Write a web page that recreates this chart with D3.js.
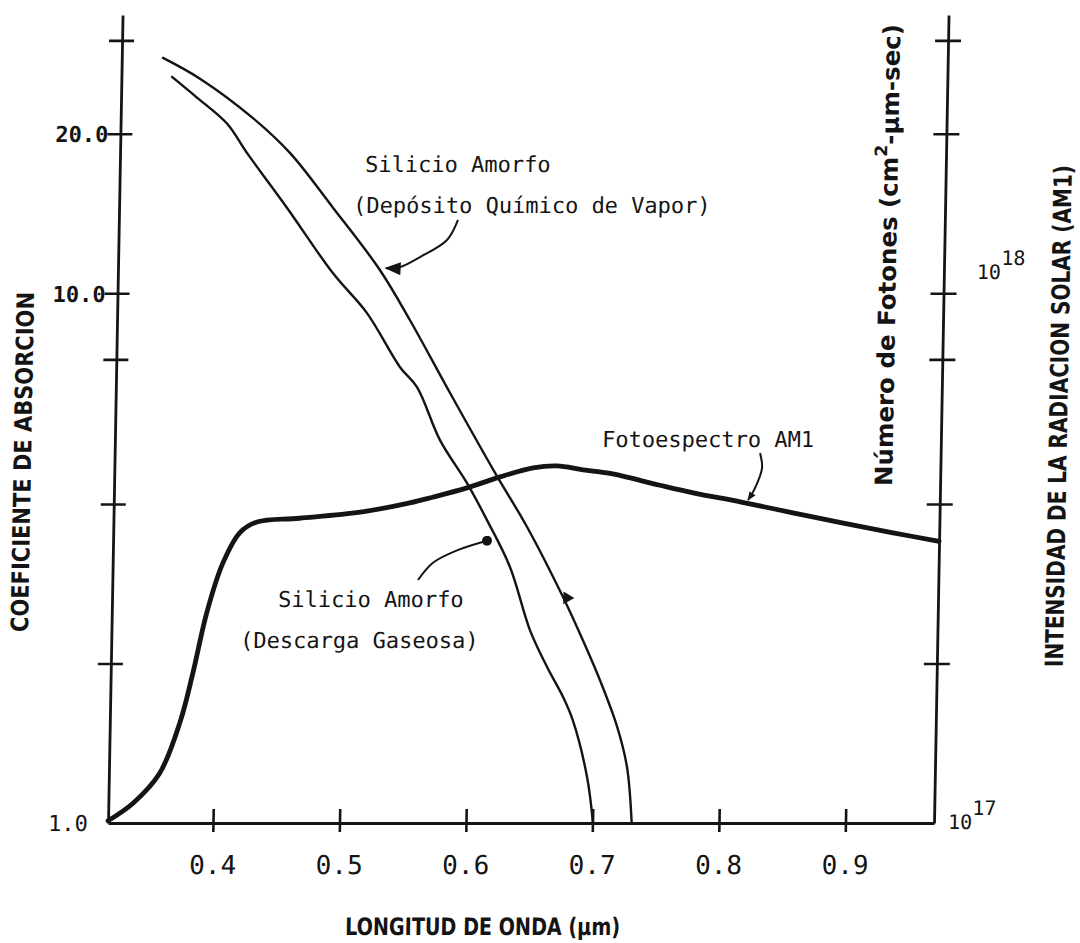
<!DOCTYPE html>
<html>
<head>
<meta charset="utf-8">
<script src="https://cdn.jsdelivr.net/npm/d3@7"></script>
<style>
  html, body { margin: 0; padding: 0; background: #fff; }
  svg { display: block; }
  .mono   { font-family: "DejaVu Sans Mono", "Liberation Mono", monospace; fill: #141414; }
  .narrow { font-family: "Liberation Sans Narrow", "DejaVu Sans Condensed", "DejaVu Sans", sans-serif; fill: #141414; font-weight: bold; }
</style>
</head>
<body>
<svg id="chart" width="1080" height="943"></svg>
<script>
// Absorption coefficient of amorphous silicon (two deposition methods) on a
// log axis, with the AM1 solar photon spectrum on a second log axis.

const X_DOMAIN = [0.317, 0.970];
const X_TICKS = [0.4, 0.5, 0.6, 0.7, 0.8, 0.9];

const ALPHA_DOMAIN = [1, 33.5];
const ALPHA_TICKS = [1, 2, 4, 7.5, 10, 20, 30];
const ALPHA_LABELS = new Map([[1, "1.0"], [10, "10.0"], [20, "20.0"]]);

const PHOTON_DOMAIN = [1e17, 3.35e18];
const PHOTON_TICKS = [1e17, 2e17, 4e17, 7.5e17, 1e18, 2e18, 3e18];
const PHOTON_EXPONENTS = new Map([[1e17, "17"], [1e18, "18"]]);

// Silicio Amorfo (Deposito Quimico de Vapor)
const CVD_WL    = [0.3496, 0.3791, 0.4216, 0.4513, 0.4861, 0.5242, 0.5486, 0.5813,
                   0.618, 0.6441, 0.6735, 0.6899, 0.7039, 0.7181, 0.7265, 0.731];
const CVD_ALPHA = [27.8, 25.4, 21.4, 18.4, 14.5, 11.05, 8.89, 6.48,
                   4.58, 3.62, 2.67, 2.21, 1.86, 1.52, 1.275, 1.0];

// Silicio Amorfo (Descarga Gaseosa)
const GD_WL    = [0.357, 0.377, 0.4011, 0.4173, 0.4497, 0.4871, 0.5145, 0.5414, 0.5551,
                  0.574, 0.596, 0.6123, 0.6312, 0.6479, 0.6619, 0.6749, 0.6831, 0.6951, 0.7004];
const GD_ALPHA = [25.6, 23.4, 20.9, 18.4, 14.5, 10.9, 9.17, 7.25, 6.65,
                  5.28, 4.38, 3.73, 3.04, 2.31, 1.97, 1.73, 1.56, 1.22, 1.0];

// Fotoespectro AM1, photons per cm2-um-sec (x 1e17)
const AM1_WL   = [0.317, 0.3365, 0.357, 0.3725, 0.382, 0.392, 0.404, 0.417, 0.4305,
                  0.464, 0.512, 0.551, 0.569, 0.596, 0.622, 0.648, 0.667, 0.6875,
                  0.709, 0.7485, 0.775, 0.814, 0.854, 0.894, 0.9335, 0.970];
const AM1_FLUX = [1.01, 1.09, 1.24, 1.55, 1.92, 2.49, 3.09, 3.53, 3.70,
                  3.76, 3.86, 4.02, 4.12, 4.29, 4.50, 4.68, 4.72, 4.64,
                  4.57, 4.34, 4.20, 4.03, 3.85, 3.68, 3.53, 3.40];

// Leader lines of the annotations, as [wavelength, value] pairs.
const CVD_LEADER = [[0.5851, 13.75], [0.5767, 12.6], [0.5556, 11.7], [0.540, 11.2], [0.5289, 11.15]];
const GD_LEADER  = [[0.5586, 2.875], [0.5702, 3.10], [0.5890, 3.27], [0.6126, 3.41]];
const AM1_LEADER = [[0.8272, 4.99], [0.8290, 4.68], [0.8238, 4.29], [0.8184, 4.07]];
const CVD_MARK   = [0.6767, 2.66];

const INK = "#141414";
const LEFT = 108, RIGHT = 934, TOP = 15, BOTTOM = 823;
const SHEAR = 0.018;   // the scanned page leans slightly to the right

const x  = d3.scaleLinear().domain(X_DOMAIN).range([LEFT, RIGHT]);
const yA = d3.scaleLog().domain(ALPHA_DOMAIN).range([BOTTOM, TOP]);
const yP = d3.scaleLog().domain(PHOTON_DOMAIN).range([BOTTOM, TOP]);

const svg = d3.select("#chart");
const defs = svg.append("defs");

defs.append("marker")
  .attr("id", "head")
  .attr("viewBox", "0 0 10 8")
  .attr("refX", 9).attr("refY", 4)
  .attr("markerUnits", "userSpaceOnUse")
  .attr("markerWidth", 17).attr("markerHeight", 13)
  .attr("orient", "auto")
  .append("path").attr("d", "M0,0 L10,4 L0,8 Z").attr("fill", INK);

defs.append("marker")
  .attr("id", "small-head")
  .attr("viewBox", "0 0 10 8")
  .attr("refX", 9).attr("refY", 4)
  .attr("markerUnits", "userSpaceOnUse")
  .attr("markerWidth", 9).attr("markerHeight", 8)
  .attr("orient", "auto")
  .append("path").attr("d", "M0,0 L10,4 L0,8 Z").attr("fill", INK);

defs.append("marker")
  .attr("id", "dot")
  .attr("viewBox", "0 0 10 10")
  .attr("refX", 5).attr("refY", 5)
  .attr("markerUnits", "userSpaceOnUse")
  .attr("markerWidth", 10).attr("markerHeight", 10)
  .append("circle").attr("cx", 5).attr("cy", 5).attr("r", 5).attr("fill", INK);

const root = svg.append("g")
  .attr("transform", `matrix(1,0,${-SHEAR},1,${SHEAR * BOTTOM},0)`);

// ---- axes ----
function inkAxis(g) {
  g.attr("font-family", null).attr("font-size", null);
  g.select(".domain").attr("stroke", INK).attr("stroke-width", 2.8);
  g.selectAll(".tick line").attr("stroke", INK).attr("stroke-width", 2.6);
}

const gx = root.append("g")
  .attr("transform", `translate(0,${BOTTOM})`)
  .call(d3.axisBottom(x).tickValues(X_TICKS).tickSizeOuter(0).tickSizeInner(9)
        .tickFormat(d3.format(".1f")))
  .call(inkAxis);
gx.selectAll(".tick line").attr("y1", -14);
gx.selectAll(".tick text")
  .attr("class", "mono").attr("font-size", 26)
  .attr("y", 51).attr("dy", null);

const gl = root.append("g")
  .attr("transform", `translate(${LEFT},0)`)
  .call(d3.axisLeft(yA).tickValues(ALPHA_TICKS).tickSizeOuter(0).tickSizeInner(13)
        .tickFormat(d => ALPHA_LABELS.get(d) || ""))
  .call(inkAxis);
gl.selectAll(".tick line").attr("x1", 12);
gl.selectAll(".tick").filter(d => d === 1).select("line").remove();
gl.selectAll(".tick text")
  .attr("class", "mono").attr("font-size", 22)
  .attr("font-weight", d => d === 1 ? "normal" : "bold")
  .attr("x", d => d === 1 ? -20 : -12).attr("dy", "0.36em");

const gr = root.append("g")
  .attr("transform", `translate(${RIGHT},0)`)
  .call(d3.axisRight(yP).tickValues(PHOTON_TICKS).tickSizeOuter(0).tickSizeInner(13)
        .tickFormat(() => ""))
  .call(inkAxis);
gr.selectAll(".tick line").attr("x1", -13);
gr.selectAll(".tick").filter(d => d === 1e17).select("line").remove();
gr.selectAll(".tick text")
  .filter(d => PHOTON_EXPONENTS.has(d))
  .attr("class", "mono").attr("font-size", 20).attr("dy", null)
  .attr("x", d => d === 1e17 ? 14 : 33)
  .attr("y", d => d === 1e17 ? 5 : -15)
  .each(function (d) {
    const t = d3.select(this);
    t.append("tspan").text("10");
    t.append("tspan").attr("dy", -14).text(PHOTON_EXPONENTS.get(d));
  });

// ---- curves ----
const alphaLine = d3.line()
  .x(d => x(d[0])).y(d => yA(d[1]))
  .curve(d3.curveCatmullRom.alpha(0.5));
const photonLine = d3.line()
  .x(d => x(d[0])).y(d => yP(d[1] * 1e17))
  .curve(d3.curveCatmullRom.alpha(0.5));

root.append("path")
  .datum(d3.zip(CVD_WL, CVD_ALPHA))
  .attr("d", alphaLine)
  .attr("fill", "none").attr("stroke", INK).attr("stroke-width", 2.4)
  .attr("stroke-linecap", "round");

root.append("path")
  .datum(d3.zip(GD_WL, GD_ALPHA))
  .attr("d", alphaLine)
  .attr("fill", "none").attr("stroke", INK).attr("stroke-width", 2.4)
  .attr("stroke-linecap", "round");

root.append("path")
  .datum(d3.zip(AM1_WL, AM1_FLUX))
  .attr("d", photonLine)
  .attr("fill", "none").attr("stroke", INK).attr("stroke-width", 4.8)
  .attr("stroke-linecap", "round").attr("stroke-linejoin", "round");

// ---- annotations ----
const leader = d3.line()
  .x(d => x(d[0])).y(d => yA(d[1]))
  .curve(d3.curveCatmullRom.alpha(0.5));

root.append("path")
  .datum(CVD_LEADER).attr("d", leader)
  .attr("fill", "none").attr("stroke", INK).attr("stroke-width", 2)
  .attr("marker-end", "url(#head)");

root.append("path")
  .datum(GD_LEADER).attr("d", leader)
  .attr("fill", "none").attr("stroke", INK).attr("stroke-width", 2)
  .attr("marker-end", "url(#dot)");

root.append("path")
  .datum(AM1_LEADER).attr("d", photonLine)
  .attr("fill", "none").attr("stroke", INK).attr("stroke-width", 2)
  .attr("marker-end", "url(#small-head)");

root.append("path")
  .attr("d", d3.symbol(d3.symbolTriangle, 70)())
  .attr("transform", `translate(${x(CVD_MARK[0])},${yA(CVD_MARK[1])}) rotate(-30)`)
  .attr("fill", INK);

const notes = [
  { text: "Silicio Amorfo", at: [0.5109, 16.9] },
  { text: "(Depósito Químico de Vapor)", at: [0.502, 14.17] },
  { text: "Fotoespectro AM1", at: [0.7022, 5.13] },
  { text: "Silicio Amorfo", at: [0.4483, 2.56] },
  { text: "(Descarga Gaseosa)", at: [0.4189, 2.14] },
];
root.selectAll("text.note")
  .data(notes).enter().append("text")
  .attr("class", "mono note")
  .attr("font-size", 22)
  .attr("x", d => x(d.at[0])).attr("y", d => yA(d.at[1]))
  .text(d => d.text);

// ---- axis titles ----
root.append("text")
  .attr("class", "narrow").attr("font-size", 24)
  .attr("text-anchor", "middle")
  .attr("transform", "translate(24.5,462) rotate(-90)")
  .attr("textLength", 340).attr("lengthAdjust", "spacingAndGlyphs")
  .text("COEFICIENTE DE ABSORCION");

root.append("text")
  .attr("class", "narrow").attr("font-size", 24)
  .attr("x", 347).attr("y", 935)
  .attr("textLength", 275).attr("lengthAdjust", "spacingAndGlyphs")
  .text("LONGITUD DE ONDA (μm)");

const photonTitle = root.append("text")
  .attr("class", "narrow").attr("font-size", 24)
  .attr("text-anchor", "middle")
  .attr("transform", "translate(886,255) rotate(-90)")
  .attr("textLength", 462).attr("lengthAdjust", "spacingAndGlyphs");
photonTitle.append("tspan").text("Número de Fotones (cm");
photonTitle.append("tspan").attr("dy", -11).attr("font-size", 17).text("2");
photonTitle.append("tspan").attr("dy", 11).text("-μm-sec)");

root.append("text")
  .attr("class", "narrow").attr("font-size", 25)
  .attr("text-anchor", "middle")
  .attr("transform", "translate(1060,416) rotate(-90)")
  .attr("textLength", 502).attr("lengthAdjust", "spacingAndGlyphs")
  .text("INTENSIDAD DE LA RADIACION SOLAR (AM1)");
</script>
</body>
</html>
